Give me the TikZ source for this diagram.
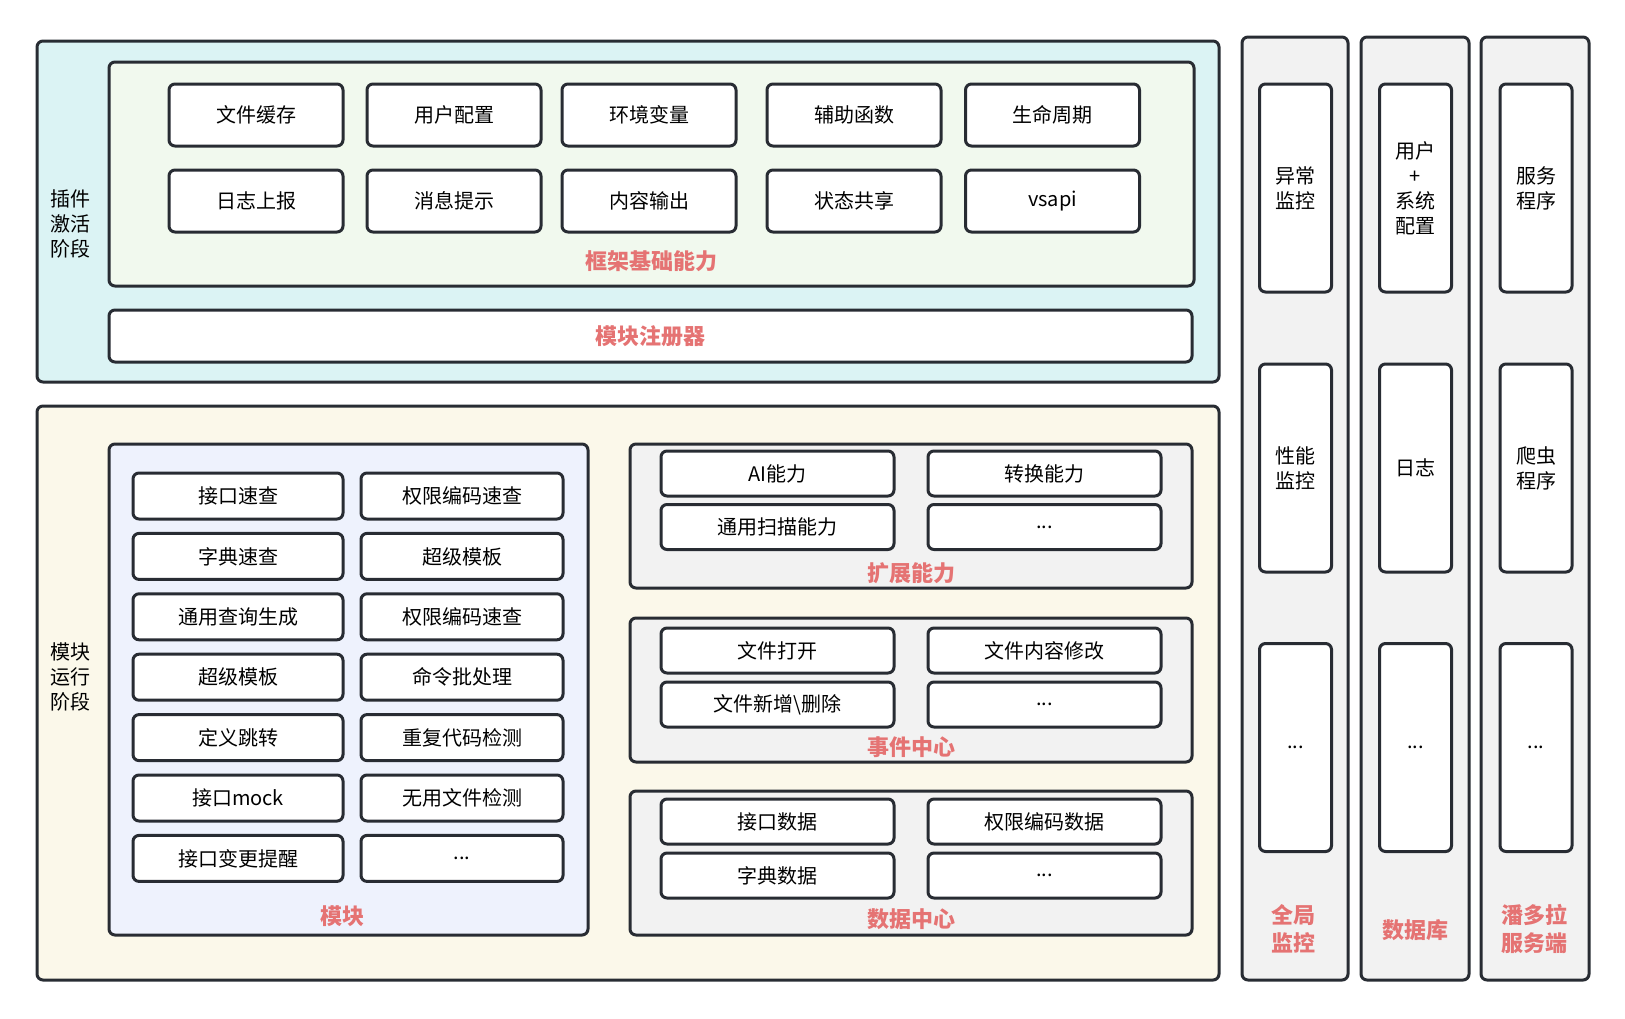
\documentclass[tikz,border=0pt]{standalone}
\usepackage{fontspec}
\setmainfont{Noto Sans CJK SC}
\usepackage{xcolor}
\usetikzlibrary{positioning}

\definecolor{edge}{HTML}{282C33}
\definecolor{labelred}{HTML}{E57373}
\definecolor{cyanbg}{HTML}{DBF3F4}
\definecolor{greenbg}{HTML}{F1F9EE}
\definecolor{creambg}{HTML}{FBF8EA}
\definecolor{lavbg}{HTML}{EEF2FD}
\definecolor{greybg}{HTML}{F2F2F2}

\begin{document}
\begin{tikzpicture}[x=0.5pt, y=-0.5pt,
    panel/.style={draw=edge, line width=1.5pt, rounded corners=3pt, inner sep=0pt},
    cell/.style={panel, fill=white, font=\fontsize{10pt}{12.5pt}\selectfont, align=center},
    fcell/.style={cell, minimum width=87pt, minimum height=31pt},
    mcell/.style={cell, minimum height=23pt},
    ecell/.style={cell, minimum width=116.5pt, minimum height=22.5pt},
    rcell/.style={cell, minimum width=36pt, minimum height=104pt},
    title/.style={text=labelred, font=\bfseries\fontsize{11pt}{14pt}\selectfont, align=center},
    side/.style={font=\fontsize{10pt}{12.5pt}\selectfont, align=center}]
    \useasboundingbox (0,0) rectangle (1625,1018);

    % plugin activation stage
    \node[panel, fill=cyanbg, minimum width=591pt, minimum height=170.5pt] (activate) at (628,211.5) {};
    \node[side] (activatelbl) at (70,224) {插件\\激活\\阶段};
    \node[panel, fill=greenbg, minimum width=542.5pt, minimum height=112pt] (framework) at (651.5,174) {};
    \node[fcell] (cache) at (256,115) {文件缓存};
    \node[fcell] (usercfg) at (454,115) {用户配置};
    \node[fcell] (envvar) at (649,115) {环境变量};
    \node[fcell] (helper) at (854,115) {辅助函数};
    \node[fcell] (lifecycle) at (1052.5,115) {生命周期};
    \node[fcell, below=10.5pt of cache] (logreport) {日志上报};
    \node[fcell, below=10.5pt of usercfg] (message) {消息提示};
    \node[fcell, below=10.5pt of envvar] (output) {内容输出};
    \node[fcell, below=10.5pt of helper] (sharing) {状态共享};
    \node[fcell, below=10.5pt of lifecycle] (vsapi) {vsapi};
    \node[title] (frameworklbl) at (651,261) {框架基础能力};
    \node[panel, fill=white, minimum width=541.5pt, minimum height=26pt, title] (registry) at (650.5,336) {模块注册器};

    % module runtime stage
    \node[panel, fill=creambg, minimum width=591pt, minimum height=287pt] (runtime) at (628,693) {};
    \node[side] (runtimelbl) at (70,677) {模块\\运行\\阶段};

    \node[panel, fill=lavbg, minimum width=239.5pt, minimum height=245.5pt] (modules) at (348.5,689.5) {};
    \node[mcell, minimum width=105pt] (apiquery) at (238,496) {接口速查};
    \node[mcell, minimum width=105pt] (dictquery) at (238,556.4) {字典速查};
    \node[mcell, minimum width=105pt] (querygen) at (238,616.8) {通用查询生成};
    \node[mcell, minimum width=105pt] (template) at (238,677.2) {超级模板};
    \node[mcell, minimum width=105pt] (jumpdef) at (238,737.6) {定义跳转};
    \node[mcell, minimum width=105pt] (apimock) at (238,798) {接口mock};
    \node[mcell, minimum width=105pt] (apichange) at (238,858.4) {接口变更提醒};
    \node[mcell, minimum width=101pt] (permquery) at (462,496) {权限编码速查};
    \node[mcell, minimum width=101pt] (template2) at (462,556.4) {超级模板};
    \node[mcell, minimum width=101pt] (permquery2) at (462,616.8) {权限编码速查};
    \node[mcell, minimum width=101pt] (batch) at (462,677.2) {命令批处理};
    \node[mcell, minimum width=101pt] (dupcheck) at (462,737.6) {重复代码检测};
    \node[mcell, minimum width=101pt] (unusedcheck) at (462,798) {无用文件检测};
    \node[mcell, minimum width=101pt] (modmore) at (462,858.4) {...};
    \node[title] (moduleslbl) at (342,916) {模块};

    \node[panel, fill=greybg, minimum width=281pt, minimum height=72pt] (extend) at (911,516) {};
    \node[ecell] (ai) at (777.5,473.5) {AI能力};
    \node[ecell] (convert) at (1044.5,473.5) {转换能力};
    \node[ecell] (scan) at (777.5,527) {通用扫描能力};
    \node[ecell] (extmore) at (1044.5,527) {...};
    \node[title] (extendlbl) at (911,573) {扩展能力};

    \node[panel, fill=greybg, minimum width=281pt, minimum height=72pt] (events) at (911,690) {};
    \node[ecell] (fileopen) at (777.5,650.5) {文件打开};
    \node[ecell] (filechange) at (1044.5,650.5) {文件内容修改};
    \node[ecell] (fileadd) at (777.5,704.5) {文件新增\textbackslash 删除};
    \node[ecell] (eventmore) at (1044.5,704.5) {...};
    \node[title] (eventslbl) at (911,747) {事件中心};

    \node[panel, fill=greybg, minimum width=281pt, minimum height=72pt] (datacenter) at (911,863) {};
    \node[ecell] (apidata) at (777.5,821.5) {接口数据};
    \node[ecell] (permdata) at (1044.5,821.5) {权限编码数据};
    \node[ecell] (dictdata) at (777.5,875.5) {字典数据};
    \node[ecell] (datamore) at (1044.5,875.5) {...};
    \node[title] (datacenterlbl) at (911,919) {数据中心};

    % right columns
    \node[panel, fill=greybg, minimum width=53pt, minimum height=471.5pt] (monitor) at (1295,508.5) {};
    \node[panel, fill=greybg, minimum width=54pt, minimum height=471.5pt] (database) at (1415,508.5) {};
    \node[panel, fill=greybg, minimum width=54pt, minimum height=471.5pt] (pandora) at (1535,508.5) {};

    \node[rcell] (exception) at (1295.5,188) {异常\\监控};
    \node[rcell] (perf) at (1295.5,468) {性能\\监控};
    \node[rcell] (monmore) at (1295.5,747.5) {...};
    \node[rcell] (config) at (1415.5,188) {用户\\+\\系统\\配置};
    \node[rcell] (logs) at (1415.5,468) {日志};
    \node[rcell] (dbmore) at (1415.5,747.5) {...};
    \node[rcell] (service) at (1536,188) {服务\\程序};
    \node[rcell] (crawler) at (1536,468) {爬虫\\程序};
    \node[rcell] (pandmore) at (1536,747.5) {...};

    \node[title] (monitorlbl) at (1293,929) {全局\\监控};
    \node[title] (databaselbl) at (1415,930) {数据库};
    \node[title] (pandoralbl) at (1534,929) {潘多拉\\服务端};
\end{tikzpicture}
\end{document}
